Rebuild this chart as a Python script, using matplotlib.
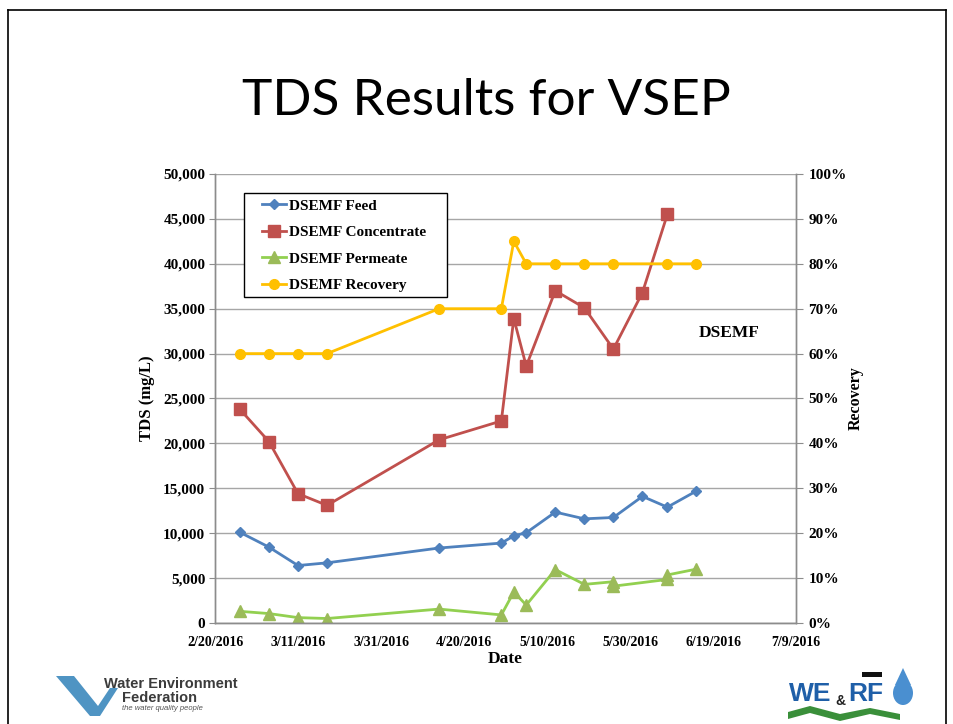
import datetime as dt
import matplotlib
matplotlib.use("Agg")
import matplotlib.pyplot as plt
import matplotlib.dates as mdates
from matplotlib.ticker import FuncFormatter, MultipleLocator
from matplotlib.lines import Line2D
from matplotlib.patches import Polygon, Ellipse, Rectangle

# ---- data -------------------------------------------------------------
feed_dates = ["2016-02-26", "2016-03-04", "2016-03-11", "2016-03-18", "2016-04-14",
              "2016-04-29", "2016-05-02", "2016-05-05", "2016-05-12", "2016-05-19",
              "2016-05-26", "2016-06-02", "2016-06-08", "2016-06-15"]
feed_tds = [10100, 8450, 6400, 6700, 8350, 8900, 9700, 10050, 12350, 11600,
            11750, 14100, 12900, 14700]

conc_dates = ["2016-02-26", "2016-03-04", "2016-03-11", "2016-03-18", "2016-04-14",
              "2016-04-29", "2016-05-02", "2016-05-05", "2016-05-12", "2016-05-19",
              "2016-05-26", "2016-06-02", "2016-06-08"]
conc_tds = [23800, 20200, 14400, 13100, 20400, 22500, 33900, 28600, 37000, 35100,
            30500, 36800, 45500]

perm_dates = ["2016-02-26", "2016-03-04", "2016-03-11", "2016-03-18", "2016-04-14",
              "2016-04-29", "2016-05-02", "2016-05-05", "2016-05-12", "2016-05-19",
              "2016-05-26", "2016-05-26", "2016-06-08", "2016-06-08", "2016-06-15"]
perm_tds = [1300, 1050, 600, 500, 1550, 900, 3450, 2000, 5950, 4300,
            4600, 4100, 4850, 5350, 6000]

rec_dates = ["2016-02-26", "2016-03-04", "2016-03-11", "2016-03-18", "2016-04-14",
             "2016-04-29", "2016-05-02", "2016-05-05", "2016-05-12", "2016-05-19",
             "2016-05-26", "2016-06-08", "2016-06-15"]
recovery = [0.60, 0.60, 0.60, 0.60, 0.70, 0.70, 0.85, 0.80, 0.80, 0.80, 0.80, 0.80, 0.80]

series_names = ["DSEMF Feed", "DSEMF Concentrate", "DSEMF Permeate", "DSEMF Recovery"]


def to_dates(vals):
    return [dt.datetime.strptime(v, "%Y-%m-%d") for v in vals]


SERIF = "Liberation Serif"
BLUE, RED, GREEN, GREEN_MK, GOLD = "#4F81BD", "#C0504D", "#92D050", "#9BBB59", "#FFC000"
GRID = "#A6A6A6"

fig = plt.figure(figsize=(9.54, 7.24), dpi=100)
fig.patch.set_facecolor("white")

# slide frame
W, H = 954, 724
def fx(px): return px / W
def fy(py): return 1 - py / H
for xs, ys in [((8, 946), (10, 10)), ((8, 8), (10, 724)), ((946, 946), (10, 724))]:
    fig.add_artist(Line2D([fx(xs[0]), fx(xs[1])], [fy(ys[0]), fy(ys[1])],
                          color="black", lw=1.2))

fig.text(fx(486), fy(101), "TDS Results for VSEP", ha="center", va="center",
         fontsize=37, family="Lato", color="black")

ax = fig.add_axes([fx(215), fy(623), fx(796) - fx(215), fy(174) - fy(623)])
ax2 = ax.twinx()

lw = 2.0
l1, = ax.plot(to_dates(feed_dates), feed_tds, color=BLUE, lw=lw, marker="D",
              ms=5.5, mfc=BLUE, mec=BLUE, label=series_names[0])
l2, = ax.plot(to_dates(conc_dates), conc_tds, color=RED, lw=lw, marker="s",
              ms=8, mfc=RED, mec=RED, label=series_names[1])
l3, = ax.plot(to_dates(perm_dates), perm_tds, color=GREEN, lw=lw, marker="^",
              ms=8, mfc=GREEN_MK, mec=GREEN_MK, label=series_names[2])
l4, = ax2.plot(to_dates(rec_dates), recovery, color=GOLD, lw=lw, marker="o",
               ms=7, mfc=GOLD, mec=GOLD, label=series_names[3])

x0 = dt.datetime(2016, 2, 20)
x1 = dt.datetime(2016, 7, 9)
ax.set_xlim(x0, x1)
ax.set_ylim(0, 50000)
ax2.set_ylim(0, 1.0)

xticks = [x0 + dt.timedelta(days=20 * i) for i in range(8)]
ax.set_xticks(xticks)
ax.xaxis.set_major_formatter(FuncFormatter(
    lambda v, p: (lambda d: f"{d.month}/{d.day}/{d.year}")(mdates.num2date(v))))
ax.yaxis.set_major_locator(MultipleLocator(5000))
ax.yaxis.set_major_formatter(FuncFormatter(lambda v, p: f"{int(v):,}"))
ax2.yaxis.set_major_locator(MultipleLocator(0.1))
ax2.yaxis.set_major_formatter(FuncFormatter(lambda v, p: f"{int(round(v * 100))}%"))

ax.grid(axis="y", color=GRID, lw=1.0)
ax.set_axisbelow(True)

for a in (ax, ax2):
    for side in ("left", "right", "bottom", "top"):
        a.spines[side].set_color("#8C8C8C")
        a.spines[side].set_linewidth(1.0)
    a.spines["top"].set_visible(False)

ax.tick_params(axis="x", length=0, pad=9)
ax.tick_params(axis="y", length=4, color="#8C8C8C", pad=3)
ax2.tick_params(axis="y", length=5, color="#8C8C8C", pad=4)

for lab in ax.get_xticklabels():
    lab.set_family(SERIF)
    lab.set_fontweight("bold")
    lab.set_fontsize(10)
for lab in ax.get_yticklabels() + ax2.get_yticklabels():
    lab.set_family(SERIF)
    lab.set_fontweight("bold")
    lab.set_fontsize(11)

ax.set_ylabel("TDS (mg/L)", family=SERIF, fontweight="bold", fontsize=12, labelpad=6)
ax.set_xlabel("Date", family=SERIF, fontweight="bold", fontsize=12.5, labelpad=2)
ax2.set_ylabel("Recovery", family=SERIF, fontweight="bold", fontsize=11.5, labelpad=1)

# legend: white framed box with the entries inside
ax.add_patch(Rectangle((fx(244), fy(297)), fx(447) - fx(244), fy(193) - fy(297),
                       transform=fig.transFigure, facecolor="white",
                       edgecolor="black", lw=1.0, zorder=5, clip_on=False))
leg = ax.legend(handles=[l1, l2, l3, l4], loc="upper left",
                bbox_to_anchor=(fx(262), fy(199)), bbox_transform=fig.transFigure,
                prop={"family": SERIF, "weight": "bold", "size": 11},
                frameon=False, handlelength=1.6, handletextpad=0.15,
                labelspacing=0.84, borderpad=0, borderaxespad=0)
leg.set_zorder(10)

ax.text(0.885, 0.645, "DSEMF", transform=ax.transAxes, ha="center", va="center",
        family=SERIF, fontweight="bold", fontsize=12.5)

# ---- footer logos ----------------------------------------------------
lg = fig.add_axes([0, 0, 1, 1], facecolor="none")
lg.set_xlim(0, W)
lg.set_ylim(H, 0)
lg.axis("off")

# Water Environment Federation mark
lg.add_patch(Polygon([(56, 676), (74, 676), (98, 706), (110, 688), (118, 688),
                      (100, 716), (90, 716)], closed=True, color="#4F94C3", lw=0))
lg.text(104, 684, "Water Environment", fontsize=10.5, family="Liberation Sans",
        fontweight="bold", color="#3B3B3B", va="center")
lg.text(122, 698, "Federation", fontsize=10.5, family="Liberation Sans",
        fontweight="bold", color="#3B3B3B", va="center")
lg.text(122, 709, "the water quality people", fontsize=5.5, family="Liberation Sans",
        color="#555555", va="center", style="italic")

# WE&RF mark
lg.text(789, 694, "WE", fontsize=19, family="Liberation Sans", fontweight="bold",
        color="#1F5FA8", va="center")
lg.text(835, 701, "&", fontsize=10, family="Liberation Sans", fontweight="bold",
        color="#222222", va="center")
lg.text(848, 694, "RF", fontsize=19, family="Liberation Sans", fontweight="bold",
        color="#1F5FA8", va="center")
lg.add_patch(Polygon([(788, 712), (810, 706), (840, 714), (870, 708), (900, 714),
                      (900, 720), (870, 714), (840, 721), (810, 713), (788, 719)],
                     closed=True, color="#3A8F3A", lw=0))
lg.add_patch(Ellipse((903, 693), 20, 24, color="#4A8FD0", lw=0))
lg.add_patch(Polygon([(895, 685), (903, 668), (911, 685)], closed=True,
                     color="#4A8FD0", lw=0))
lg.add_patch(Polygon([(862, 672), (882, 672), (882, 677), (862, 677)], closed=True,
                     color="#111111", lw=0))

fig.savefig("out.png", dpi=100)
